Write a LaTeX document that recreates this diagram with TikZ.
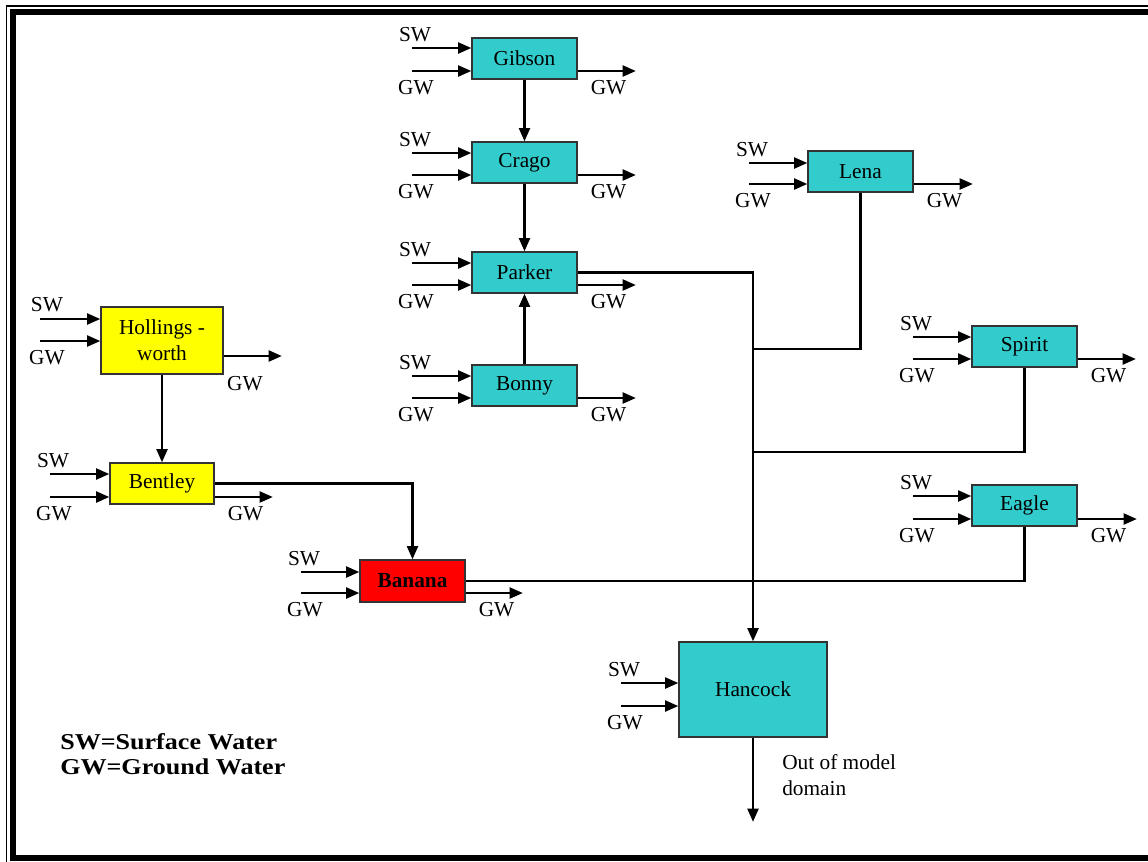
\documentclass[tikz,border=0pt]{standalone}
\usepackage{fontspec}
\setmainfont{Liberation Serif}
\usetikzlibrary{arrows.meta,calc}
\definecolor{cyanbox}{HTML}{33CCCC}
\definecolor{yellowbox}{HTML}{FFFF00}
\definecolor{redbox}{HTML}{FF0000}
\newcommand\basinin[4]{%
  \coordinate (#1-sw) at (#2,#3);
  \coordinate (#1-gw) at (#2,#4);
  \draw[flow] (#1-sw) -- (#1-sw -| #1.west);
  \draw[flow] (#1-gw) -- (#1-gw -| #1.west);
  \node[lbl] (#1-swl) at ($(#1-sw)+(3,-13.5)$) {SW};
  \node[lbl] (#1-gwl) at ($(#1-gw)+(4,17)$) {GW};
}
\newcommand\basinout[3]{%
  \coordinate (#1-out) at (#2,#3);
  \draw[flow] (#1-out -| #1.east) -- (#1-out);
  \node[lbl] (#1-outl) at ($(#1-out -| #1.east)+(31,17)$) {GW};
}
\begin{document}
\begin{tikzpicture}[x=0.75pt,y=-0.75pt,
  flow/.style={line width=2.2pt,-{Triangle[length=10pt,width=8pt]}},
  link/.style={line width=2.2pt},
  lbl/.style={inner sep=0pt,font=\fontsize{16}{19}\selectfont},
  basin/.style={draw=black!80,line width=0.8pt,fill=#1,minimum width=78.75pt,
    minimum height=30.75pt,inner sep=0pt,font=\fontsize{16}{19.5}\selectfont,align=center},
]
\useasboundingbox (0,0) rectangle (1148,861);
\clip (0,0) rectangle (1148,861);
% frame
\draw[line width=1.1pt] (6.5,6) rectangle (1200,900);
\draw[line width=4.5pt] (13,12) rectangle (1200,858);

% basins
\node[basin=cyanbox] (gib) at (524.5,58.5) {Gibson};
\node[basin=cyanbox] (crg) at (524.5,162.5) {Crago};
\node[basin=cyanbox] (par) at (524.5,272.5) {Parker};
\node[basin=cyanbox] (bon) at (524.5,385.5) {Bonny};
\node[basin=cyanbox] (lena) at (860.5,171.5) {Lena};
\node[basin=cyanbox] (spi) at (1024.5,346.5) {Spirit};
\node[basin=cyanbox] (eag) at (1024.5,505.5) {Eagle};
\node[basin=yellowbox,minimum width=91.5pt,minimum height=50.25pt] (holl) at (162,340.5) {Hollings -\\worth};
\node[basin=yellowbox,minimum width=78pt] (bent) at (162,483.5) {Bentley};
\node[basin=redbox,minimum height=31.5pt] (ban) at (412.5,581) {\textbf{Banana}};
\node[basin=cyanbox,minimum width=111pt,minimum height=71.25pt] (han) at (753,689.5) {Hancock};

% inflows / outflows
\basinin{gib}{412}{48}{71}
\basinout{gib}{636}{71}
\basinin{crg}{412}{153}{175}
\basinout{crg}{636}{175}
\basinin{par}{412}{263}{285}
\basinout{par}{636}{285}
\basinin{bon}{412}{376}{398}
\basinout{bon}{636}{398}
\basinin{lena}{749}{163}{184}
\basinout{lena}{973}{184}
\basinin{spi}{913}{337}{359}
\basinout{spi}{1136}{359}
\basinin{eag}{913}{496}{519}
\basinout{eag}{1137}{519}
\basinin{bent}{50}{474}{497}
\basinout{bent}{273}{497}
\basinin{ban}{301}{572}{593}
\basinout{ban}{523}{593}
\basinin{han}{621}{683}{706}

% Hollingsworth flows
\coordinate (holl-sw) at (40,319);
\coordinate (holl-gw) at (40,341);
\coordinate (holl-out) at (282,356);
\draw[flow] (holl-sw) -- (holl-sw -| holl.west);
\draw[flow] (holl-gw) -- (holl-gw -| holl.west);
\draw[flow] (holl-out -| holl.east) -- (holl-out);
\node[lbl] (holl-swl) at (47,305) {SW};
\node[lbl] (holl-gwl) at (47,358) {GW};
\node[lbl] (holl-outl) at (245,384) {GW};

% links between basins
\coordinate (j1) at (753,349);
\coordinate (j2) at (753,452);
\coordinate (out) at (753,822);
\draw[flow] (gib.south) -- (crg.north);
\draw[flow] (crg.south) -- (par.north);
\draw[flow] (bon.north) -- (par.south);
\draw[flow] (par.east) -| (han.north);
\draw[link] (lena.south) |- (j1);
\draw[link] (spi.south) |- (j2);
\draw[link] (eag.south) |- (ban.east);
\draw[flow] (holl.south) -- (bent.north);
\draw[flow] (bent.east) -| (ban.north);
\draw[flow] (han.south) -- (out);

\node[lbl,anchor=north west,align=left,font=\fontsize{16}{19.5}\selectfont] (outl) at (782,754) {Out of model\\domain};

% legend
\node[inner sep=0pt,anchor=west,font=\fontsize{17}{19}\selectfont\bfseries] (leg1) at (60,742) {\scalebox{1.15}[1]{SW=Surface Water}};
\node[inner sep=0pt,anchor=west,font=\fontsize{17}{19}\selectfont\bfseries] (leg2) at (60,767) {\scalebox{1.15}[1]{GW=Ground Water}};
\end{tikzpicture}
\end{document}
